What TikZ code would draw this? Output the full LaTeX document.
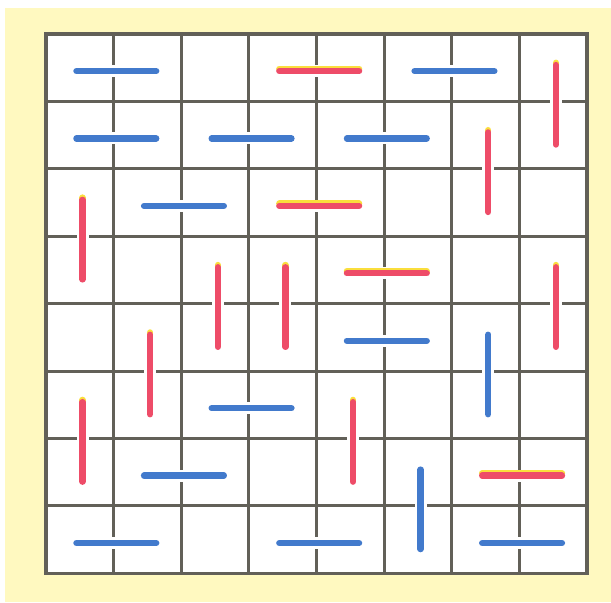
\documentclass[tikz,border=0pt]{standalone}
\definecolor{paper}{RGB}{255, 249, 192}
\definecolor{gridline}{RGB}{98, 96, 88}
\definecolor{barblue}{RGB}{66, 122, 204}
\definecolor{barred}{RGB}{238, 76, 104}
\definecolor{baryellow}{RGB}{250, 222, 60}
\usetikzlibrary{calc}

\tikzset{
  bar/.style       = {line width=6.3pt, line cap=round},
  halo/.style      = {bar, white, line width=12pt},
  bluebar/.style   = {bar, barblue},
  redbar/.style    = {bar, barred},
  yellowbar/.style = {bar, baryellow, yshift=2.3pt},
  gridrule/.style  = {gridline, line width=3pt}
}

\begin{document}
\begin{tikzpicture}[x=67.6pt, y=-67.4pt]
  \useasboundingbox (-0.680,-0.504) rectangle (8.355,8.43);
  \fill[paper] (-0.607,-0.386) rectangle (8.355,8.43);
  \fill[white] (0,0) rectangle (8,8);

  \foreach \i in {1,...,7}{
    \draw[gridrule] (\i,0) -- (\i,8);
    \draw[gridrule] (0,\i) -- (8,\i);
  }
  \draw[gridrule, line width=3.5pt] (0,0) rectangle (8,8);

  \begin{scope}[shift={(0.04,0.05)}]
    % horizontal, blue
    \foreach \c/\r in {0/0, 5/0, 0/1, 2/1, 4/1, 1/2, 4/4, 2/5, 1/6, 0/7, 3/7, 6/7}{
      \draw[halo]    (\c+0.41,\r+0.5) -- (\c+1.59,\r+0.5);
      \draw[bluebar] (\c+0.41,\r+0.5) -- (\c+1.59,\r+0.5);
    }
    % horizontal, red
    \foreach \c/\r in {3/0, 3/2, 4/3, 6/6}{
      \draw[halo]      (\c+0.41,\r+0.5) -- (\c+1.59,\r+0.5);
      \draw[yellowbar] (\c+0.41,\r+0.5) -- (\c+1.59,\r+0.5);
      \draw[redbar]    (\c+0.41,\r+0.5) -- (\c+1.59,\r+0.5);
    }
    % vertical, red
    \foreach \c/\r in {7/0, 6/1, 0/2, 2/3, 3/3, 7/3, 1/4, 0/5, 4/5}{
      \draw[halo]      (\c+0.5,\r+0.41) -- (\c+0.5,\r+1.59);
      \draw[yellowbar] (\c+0.5,\r+0.41) -- (\c+0.5,\r+1.59);
      \draw[redbar]    (\c+0.5,\r+0.41) -- (\c+0.5,\r+1.59);
    }
    % vertical, blue
    \foreach \c/\r in {6/4, 5/6}{
      \draw[halo]    (\c+0.5,\r+0.41) -- (\c+0.5,\r+1.59);
      \draw[bluebar] (\c+0.5,\r+0.41) -- (\c+0.5,\r+1.59);
    }
  \end{scope}
\end{tikzpicture}
\end{document}
